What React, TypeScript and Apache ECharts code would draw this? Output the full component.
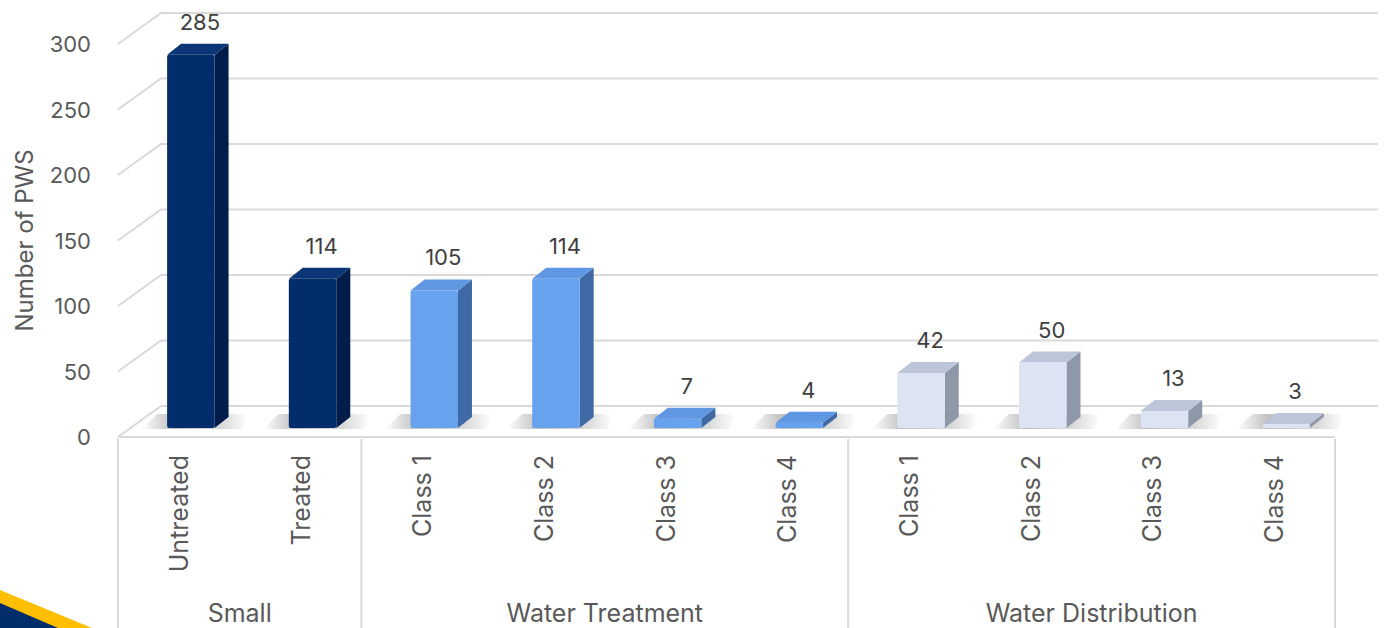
import React, { useEffect, useRef } from "react";
import * as echarts from "echarts";

const categories = ["Untreated", "Treated", "Class 1", "Class 2", "Class 3", "Class 4", "Class 1", "Class 2", "Class 3", "Class 4"];
const values = [285, 114, 105, 114, 7, 4, 42, 50, 13, 3];
const groupOfBar = [0, 0, 1, 1, 1, 1, 2, 2, 2, 2];
const groupNames = ["Small", "Water Treatment", "Water Distribution"];
const groupStarts = [0, 2, 6];
const groupSizes = [2, 4, 4];
const yTicks = [0, 50, 100, 150, 200, 250, 300];

const frontColors = ["#022D6D", "#67A2EE", "#DCE3F3"];
const sideColors = ["#011E4B", "#3F6AA6", "#8E98A9"];
const topColors = ["#0A3577", "#5F97E2", "#BCC6D8"];

const FONT = "Inter";
const TEXT = "#595959";
const GRID = "#D9D9D9";
// oblique depth of the floor / back wall
const DX = 43;
const DY = -31;

export default function App() {
  const ref = useRef<HTMLDivElement>(null);
  useEffect(() => {
    if (!ref.current) return;
    const chart = echarts.init(ref.current, null, { renderer: "svg" });
    const barData = values.map((v, i) => [i, v, groupOfBar[i]]);
    const gridData = yTicks.map((t) => [0, t]);
    const groupData = groupNames.map((n, gi) => [groupStarts[gi], groupSizes[gi], gi]);

    chart.setOption({
      animation: false,
      backgroundColor: "#ffffff",
      textStyle: { fontFamily: FONT },
      grid: { left: 118, right: 50, top: 44, bottom: 191, containLabel: false },
      xAxis: {
        type: "category",
        data: categories,
        axisLine: { show: false },
        axisTick: { show: false },
        splitLine: { show: false },
        axisLabel: { rotate: 90, margin: 18, fontSize: 25, color: TEXT, fontFamily: FONT, interval: 0 },
      },
      yAxis: {
        type: "value",
        min: 0,
        max: 300,
        interval: 50,
        axisLine: { show: false },
        axisTick: { show: false },
        splitLine: { show: false },
        axisLabel: { margin: 27, fontSize: 22, color: TEXT, fontFamily: FONT },
        name: "Number of PWS",
        nameLocation: "middle",
        nameGap: 82,
        nameTextStyle: { fontSize: 24, color: TEXT, fontFamily: FONT },
      },
      graphic: [
        { type: "polygon", shape: { points: [[0, 590], [92, 628], [0, 628]] }, style: { fill: "#FDBF00" }, z: 100 },
        { type: "polygon", shape: { points: [[0, 603], [58, 628], [0, 628]] }, style: { fill: "#022D6D" }, z: 101 },
      ],
      series: [
        {
          type: "custom",
          name: "gridlines",
          data: gridData,
          z: 1,
          silent: true,
          renderItem: (params: any, api: any) => {
            const v = api.value(1);
            const bw = api.size([1, 0])[0];
            const p = api.coord([0, v]);
            const left = p[0] - bw / 2;
            const right = api.coord([categories.length - 1, v])[0] + bw / 2;
            const y = p[1];
            const children: any[] = [
              {
                type: "polyline",
                shape: { points: [[left, y], [left + DX, y + DY], [right + DX, y + DY]] },
                style: { stroke: GRID, lineWidth: 2, fill: null },
              },
            ];
            if (v === 0) {
              children.push({
                type: "line",
                shape: { x1: left, y1: y, x2: right, y2: y },
                style: { stroke: GRID, lineWidth: 2 },
              });
            }
            return { type: "group", children };
          },
        },
        {
          type: "custom",
          name: "groups",
          data: groupData,
          z: 1,
          silent: true,
          renderItem: (params: any, api: any) => {
            const s = api.value(0);
            const n = api.value(1);
            const gi = api.value(2);
            const bw = api.size([1, 0])[0];
            const p = api.coord([s, 0]);
            const left = p[0] - bw / 2;
            const right = api.coord([s + n - 1, 0])[0] + bw / 2;
            const y0 = p[1] + 2;
            const h = api.getHeight();
            const children: any[] = [
              { type: "line", shape: { x1: left, y1: y0, x2: left, y2: h }, style: { stroke: GRID, lineWidth: 2 } },
              {
                type: "text",
                style: {
                  text: groupNames[gi],
                  x: (left + right) / 2,
                  y: 613,
                  align: "center",
                  verticalAlign: "middle",
                  fontSize: 25,
                  fontFamily: FONT,
                  fill: TEXT,
                },
              },
            ];
            if (gi === groupNames.length - 1) {
              children.push({ type: "line", shape: { x1: right, y1: y0, x2: right, y2: h }, style: { stroke: GRID, lineWidth: 2 } });
            }
            return { type: "group", children };
          },
        },
        {
          type: "custom",
          name: "bars",
          data: barData,
          z: 5,
          renderItem: (params: any, api: any) => {
            const i = api.value(0);
            const v = api.value(1);
            const g = api.value(2);
            const base = api.coord([i, 0]);
            const top = api.coord([i, v]);
            const bw = api.size([1, 0])[0];
            const fw = bw * 0.39;
            const ox = 12, oy = -9, dx = 14, dy = -11;
            const cx = base[0] + ox;
            const xl = cx - fw / 2;
            const xr = cx + fw / 2;
            const yb = base[1] + oy;
            const yt = top[1] + oy;
            return {
              type: "group",
              children: [
                {
                  type: "polygon",
                  shape: { points: [[xl - 26, yb + 1], [xr + dx + 14, yb + 1], [xr + dx + 20, yb + dy - 3], [xl - 10, yb + dy - 3]] },
                  style: {
                    fill: new echarts.graphic.LinearGradient(0, 0, 1, 0, [
                      { offset: 0, color: "rgba(0,0,0,0)" },
                      { offset: 0.3, color: "rgba(0,0,0,0.25)" },
                      { offset: 0.75, color: "rgba(0,0,0,0.15)" },
                      { offset: 1, color: "rgba(0,0,0,0)" },
                    ]),
                  },
                },
                {
                  type: "polygon",
                  shape: { points: [[xr, yt], [xr + dx, yt + dy], [xr + dx, yb + dy], [xr, yb]] },
                  style: { fill: sideColors[g] },
                },
                {
                  type: "polygon",
                  shape: { points: [[xl, yt], [xl + dx, yt + dy], [xr + dx, yt + dy], [xr, yt]] },
                  style: { fill: topColors[g] },
                },
                {
                  type: "rect",
                  shape: { x: xl, y: yt, width: fw, height: Math.max(yb - yt, 1), r: 2 },
                  style: { fill: frontColors[g] },
                },
                {
                  type: "text",
                  style: {
                    text: String(v),
                    x: cx + dx / 2 + 2,
                    y: yt + dy - 22,
                    align: "center",
                    verticalAlign: "middle",
                    fontSize: 22,
                    fontFamily: FONT,
                    fill: "#404040",
                  },
                },
              ],
            };
          },
        },
      ],
    });
    return () => chart.dispose();
  }, []);
  return <div ref={ref} style={{ position: "absolute", left: 0, top: 0, width: 1385, height: 628 }} />;
}
